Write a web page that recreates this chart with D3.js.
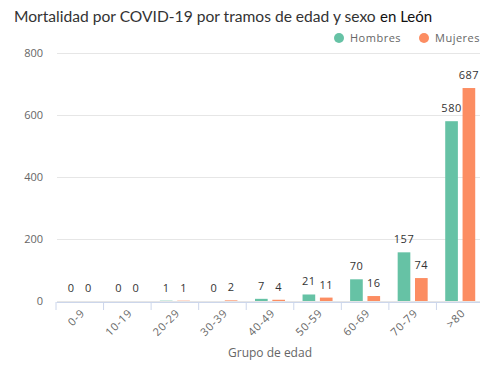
<!DOCTYPE html>
<html><head><meta charset="utf-8">
<script src="https://cdn.jsdelivr.net/npm/d3@7"></script>
<style>
body{margin:0;background:#fff;}
svg{display:block;}
</style></head>
<body><svg id="c" width="480" height="377"></svg>
<script>
const categories = ["0-9","10-19","20-29","30-39","40-49","50-59","60-69","70-79",">80"];
const hombres = [0,0,1,0,7,21,70,157,580];
const mujeres = [0,0,1,2,4,11,16,74,687];
const seriesNames = ["Hombres","Mujeres"];
const colors = ["#66c2a5","#fc8d62"];
const yTicks = [0,200,400,600,800];

const svg = d3.select("#c");
const x = d3.scaleBand().domain(categories).range([56,484]);
const y = d3.scaleLinear().domain([0,800]).range([301,53]);
const xs = d3.scaleBand().domain(seriesNames).range([-15,15]).paddingInner(0.27);

// title
const title = svg.append("text").attr("x",14).attr("y",22).attr("fill","#333")
  .style("font-family","Lato").style("font-size","16px")
  .text("Mortalidad por COVID-19 por tramos de edad y sexo");
const w0 = title.node().getComputedTextLength();
title.style("font-size", (16*362/w0)+"px");
svg.append("text").attr("x",380).attr("y",22).attr("fill","#111")
  .style("font-family","Lato").style("font-size","15px").text("en León");

// legend
const lg = [{n:"Hombres",x:339,c:colors[0]},{n:"Mujeres",x:424,c:colors[1]}];
lg.forEach(d=>{
  svg.append("circle").attr("cx",d.x).attr("cy",38).attr("r",5).attr("fill",d.c);
  svg.append("text").attr("x",d.x+11).attr("y",42).text(d.n).attr("fill","#666")
    .style("font-family","Open Sans").style("font-size","11px").style("letter-spacing","0.5px");
});

// grid
const yAxis = d3.axisLeft(y).tickValues(yTicks).tickSize(-(484-57)).tickPadding(14);
const gy = svg.append("g").attr("transform","translate(57,0)").call(yAxis);
gy.select(".domain").remove();
gy.selectAll(".tick line").attr("stroke","#e6e6e6");
gy.selectAll(".tick text").attr("fill","#666").style("font-family","Open Sans").style("font-size","11px");

// x axis
const xAxis = d3.axisBottom(x).tickSizeInner(0).tickSizeOuter(0);
const gx = svg.append("g").attr("transform","translate(0,302)").call(xAxis);
gx.select(".domain").attr("stroke","#ccd6eb");
gx.selectAll(".tick text").attr("fill","#666").style("font-family","Open Sans").style("font-size","11px")
  .style("letter-spacing","0.8px")
  .attr("text-anchor","end").attr("transform","translate(3,9) rotate(-45)").attr("dy","0.35em").attr("y",0).attr("x",0);
// category separators
svg.append("g").selectAll("line").data(categories).join("line")
  .attr("x1",d=>x(d)).attr("x2",d=>x(d)).attr("y1",302).attr("y2",310).attr("stroke","#ccd6eb");

// bars
const data = [];
categories.forEach((c,i)=>{
  data.push({c,s:"Hombres",v:hombres[i],col:colors[0]});
  data.push({c,s:"Mujeres",v:mujeres[i],col:colors[1]});
});
const cx = d=>x(d.c)+x.bandwidth()/2+xs(d.s);
svg.append("g").selectAll("rect").data(data).join("rect")
  .attr("x",cx).attr("width",xs.bandwidth())
  .attr("y",d=>y(d.v)).attr("height",d=>y(0)-y(d.v)).attr("fill",d=>d.col);
svg.append("g").selectAll("text").data(data).join("text")
  .attr("x",d=>cx(d)+xs.bandwidth()/2).attr("y",d=>y(d.v)-9)
  .attr("text-anchor","middle").text(d=>d.v).attr("fill","#333")
  .style("font-family","Open Sans").style("font-size","11px").style("letter-spacing","0.5px");

// axis title
svg.append("text").attr("x",270).attr("y",357).attr("text-anchor","middle").text("Grupo de edad")
  .attr("fill","#666").style("font-family","Open Sans").style("font-size","12px");
</script></body></html>
